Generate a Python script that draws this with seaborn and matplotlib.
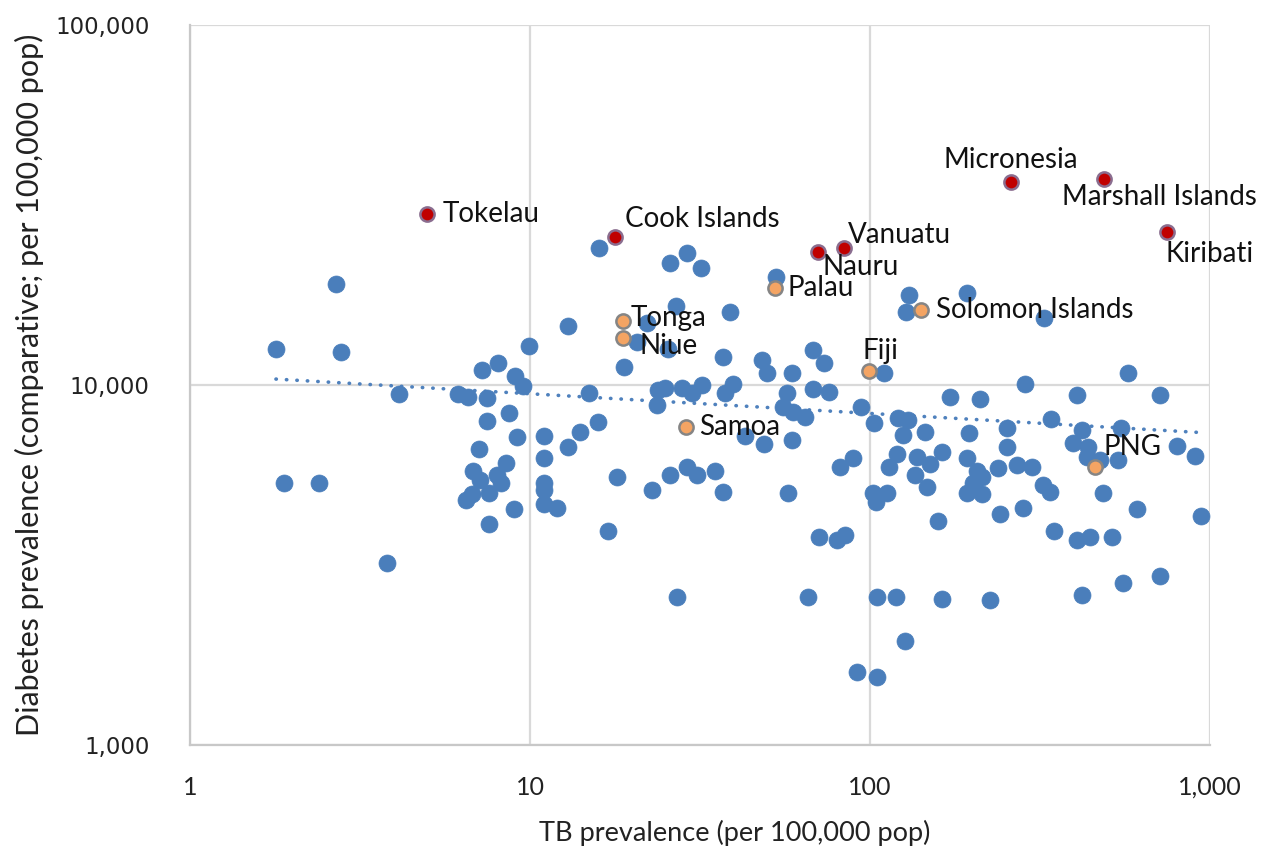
import numpy as np
import pandas as pd
import matplotlib
matplotlib.use("Agg")
import matplotlib.pyplot as plt
import seaborn as sb
from matplotlib.ticker import FixedLocator, NullLocator, FuncFormatter

# TB prevalence (x) en diabetes prevalence (y), per 100,000 pop - overige landen
tb_other = [1.79, 2.69, 2.78, 1.89, 2.40, 3.80, 4.12,
            9.93, 7.22, 8.05, 9.03, 9.54, 6.14, 6.57, 7.47, 14.9, 18.9, 20.6, 23.8, 23.6,
            8.68, 7.47, 9.16, 11.0, 15.8, 14.0, 12.9, 7.08, 11.0, 8.50, 6.80, 7.13, 8.00, 8.22, 11.0, 11.0, 18.0, 22.8,
            6.48, 6.75, 7.58, 12.9, 8.97, 7.58, 11.0, 12.0, 17.0,
            16.0, 25.8, 29.0, 31.8, 26.9, 38.7, 22.1, 25.5, 52.9, 130, 193, 128, 325,
            36.9, 48.1, 49.8, 59.0, 68.0, 73.2, 110,
            25.0, 28.0, 30.0, 32.0, 37.5, 39.5, 57.0, 68.0, 75.8, 55.5, 59.4, 64.4, 94.1,
            42.9, 48.8, 59.0, 103, 121, 129, 125, 145,
            25.8, 29.0, 31.0, 35.0, 36.9,
            57.4, 81.6, 89.1, 114, 120, 137, 136, 102, 112, 147,
            286, 574, 406, 713, 172, 211, 341, 253, 253, 196,
            420, 395, 438, 435, 475, 536, 547, 800, 903,
            163, 150, 193, 206, 213, 201, 193, 213,
            238, 271, 300, 323, 338, 485,
            104, 158, 241, 282, 348, 406, 444, 515, 610, 941,
            70.8, 80.0, 84.4,
            27.1, 65.7, 105, 119, 163, 225, 420, 555, 713,
            127, 91.6, 105]
diab_other = [12590, 19080, 12350, 5340, 5340, 3200, 9440,
              12830, 11010, 11510, 10590, 9940, 9440, 9260, 9200, 9500, 11220, 13170, 9690, 8800,
              8360, 7940, 7170, 7220, 7890, 7400, 6730, 6640, 6270, 6070, 5770, 5450, 5620, 5340, 5340, 5110, 5550, 5110,
              4790, 4980, 5010, 14580, 4520, 4110, 4670, 4550, 3930,
              24020, 21820, 23260, 21130, 16580, 15950, 14870, 12590, 19950, 17780, 18010, 15950, 15350,
              11960, 11730, 10800, 10800, 12510, 11510, 10800,
              9810, 9810, 9500, 10000, 9500, 10060, 9500, 9750, 9560, 8690, 8410, 8150, 8690,
              7220, 6860, 7030, 7840, 8100, 8000, 7260, 7400,
              5620, 5920, 5620, 5770, 5040,
              5010, 5920, 6270, 5920, 6430, 6310, 5620, 5010, 5010, 5210,
              10060, 10800, 9380, 9380, 9260, 9140, 8050, 7600, 6730, 7360,
              7500, 6900, 6730, 6310, 6190, 6190, 7600, 6770, 6350,
              6510, 6030, 6270, 5770, 5550, 5340, 5010, 4980,
              5880, 5990, 5920, 5270, 5040, 5010,
              4730, 4190, 4380, 4550, 3930, 3710, 3780, 3780, 4520, 4330,
              3780, 3710, 3830,
              2580, 2580, 2580, 2580, 2540, 2530, 2610, 2820, 2950,
              1940, 1600, 1540]

# Pacifische eilanden met hoge diabetes (rood)
red_names = ["Tokelau", "Cook Islands", "Nauru", "Vanuatu", "Micronesia", "Marshall Islands", "Kiribati"]
tb_red = [4.98, 17.8, 70.3, 83.8, 260, 488, 747]
diab_red = [29850, 25770, 23410, 24020, 36640, 37350, 26610]

# Overige Pacifische eilanden (oranje)
orange_names = ["Tonga", "Niue", "Palau", "Solomon Islands", "Fiji", "Samoa", "PNG"]
tb_orange = [18.8, 18.8, 52.6, 141, 99.3, 28.8, 459]
diab_orange = [15060, 13510, 18600, 16160, 10940, 7650, 5920]

trend_coef = 10720
trend_exp = -0.0546

# label offsets (points) en uitlijning
label_pos = {
    "Tokelau": ((11, 0), "left"), "Cook Islands": ((7, 13), "left"),
    "Nauru": ((3, -11), "left"), "Vanuatu": ((3, 9), "left"),
    "Micronesia": ((0, 16), "center"), "Marshall Islands": ((40, -13), "center"),
    "Kiribati": ((31, -16), "center"), "Tonga": ((5, 2), "left"),
    "Niue": ((12, -6), "left"), "Palau": ((9, 0), "left"),
    "Solomon Islands": ((11, 0), "left"), "Fiji": ((8, 14), "center"),
    "Samoa": ((9, 0), "left"), "PNG": ((27, 14), "center"),
}

sb.set_theme(style="white")
plt.rcParams['font.family'] = ['Lato', 'DejaVu Sans']

df_other = pd.DataFrame({"tb": tb_other, "diab": diab_other})
df_red = pd.DataFrame({"tb": tb_red, "diab": diab_red, "name": red_names})
df_orange = pd.DataFrame({"tb": tb_orange, "diab": diab_orange, "name": orange_names})

fig = plt.figure(figsize=(12.7, 8.52), dpi=100)
ax = fig.add_axes([0.1496, 0.1256, 0.8032, 0.8451])
ax.set_xscale("log")
ax.set_yscale("log")

blue = "#4a7ebb"
sb.scatterplot(data=df_other, x="tb", y="diab", ax=ax, s=150, color=blue, edgecolor=blue,
               linewidth=0.5, zorder=3, legend=False)
sb.scatterplot(data=df_orange, x="tb", y="diab", ax=ax, s=105, color="#f4a463", edgecolor="#858585",
               linewidth=1.8, zorder=4, legend=False)
sb.scatterplot(data=df_red, x="tb", y="diab", ax=ax, s=105, color="#c00000", edgecolor="#8a6d8f",
               linewidth=1.8, zorder=4, legend=False)

# trendlijn over het bereik van de data
xs = np.logspace(np.log10(min(tb_other)), np.log10(max(tb_other)), 50)
ax.plot(xs, trend_coef * xs ** trend_exp, color="#4f81bd", lw=2.6,
        linestyle=(0, (0.1, 2.8)), dash_capstyle="round", zorder=2)

for df in (df_red, df_orange):
    for _, r in df.iterrows():
        off, ha = label_pos[r["name"]]
        ax.annotate(r["name"], (r["tb"], r["diab"]), xytext=off, textcoords="offset points",
                    ha=ha, va="center", fontsize=20, color="#111111", zorder=5)

ax.set_xlim(1, 1000)
ax.set_ylim(1000, 100000)
ax.xaxis.set_major_locator(FixedLocator([1, 10, 100, 1000]))
ax.yaxis.set_major_locator(FixedLocator([1000, 10000, 100000]))
ax.xaxis.set_minor_locator(NullLocator())
ax.yaxis.set_minor_locator(NullLocator())
fmt = FuncFormatter(lambda v, p: f"{int(round(v)):,}")
ax.xaxis.set_major_formatter(fmt)
ax.yaxis.set_major_formatter(fmt)
ax.grid(True, color="#d9d9d9", linewidth=1.6)
ax.set_axisbelow(True)
for side in ("top", "right"):
    ax.spines[side].set_visible(False)
for side in ("left", "bottom"):
    ax.spines[side].set_color("#c8c8c8")
    ax.spines[side].set_linewidth(1.6)
ax.tick_params(axis="x", length=0, pad=22, labelsize=18, labelcolor="#222222")
ax.tick_params(axis="y", length=0, pad=29, labelsize=16.5, labelcolor="#222222")
for lab in ax.get_yticklabels():
    lab.set_fontfamily("DejaVu Sans")

ax.set_xlabel("TB prevalence (per 100,000 pop)", fontsize=19.5, color="#222222")
ax.set_ylabel("Diabetes prevalence (comparative; per 100,000 pop)", fontsize=22, color="#222222")
ax.xaxis.set_label_coords(0.534, -0.122)
ax.xaxis.label.set_va("center")
ax.yaxis.set_label_coords(-0.157, 0.5)
ax.yaxis.label.set_va("center")

fig.savefig("out.png", dpi=100)
